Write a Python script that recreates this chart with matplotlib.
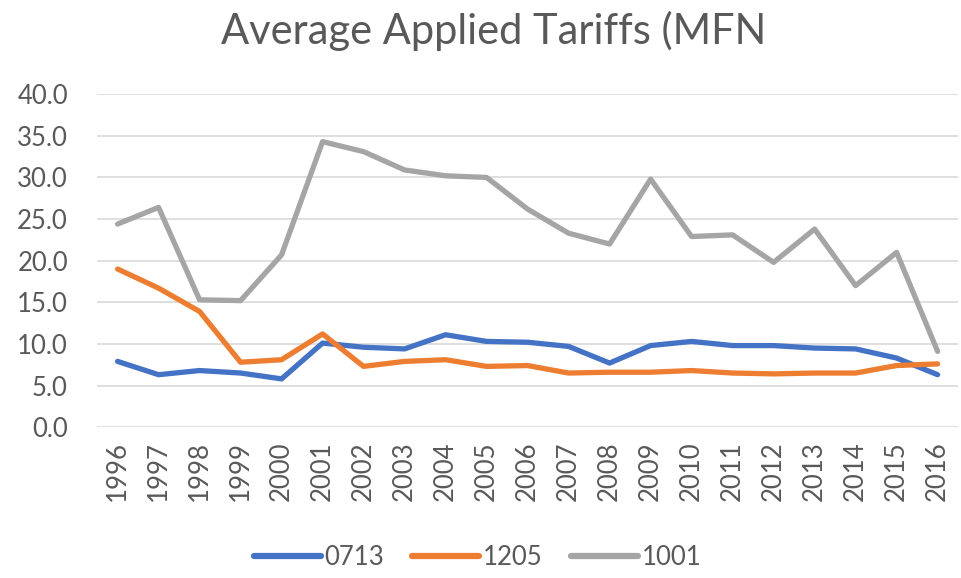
import matplotlib
matplotlib.use("Agg")
import matplotlib.pyplot as plt

plt.rcParams['font.family'] = ['Lato', 'DejaVu Sans']

years = [str(y) for y in range(1996, 2017)]
s0713 = [7.9, 6.3, 6.8, 6.5, 5.8, 10.1, 9.6, 9.4, 11.1, 10.3, 10.2, 9.7, 7.7, 9.8, 10.3, 9.8, 9.8, 9.5, 9.4, 8.3, 6.3]
s1205 = [19.0, 16.7, 13.9, 7.8, 8.1, 11.2, 7.3, 7.9, 8.1, 7.3, 7.4, 6.5, 6.6, 6.6, 6.8, 6.5, 6.4, 6.5, 6.5, 7.4, 7.6]
s1001 = [24.4, 26.4, 15.3, 15.2, 20.7, 34.3, 33.1, 30.9, 30.2, 30.0, 26.2, 23.3, 22.0, 29.8, 22.9, 23.1, 19.8, 23.8, 17.0, 21.0, 9.1]
series_names = ['0713', '1205', '1001']
colors = ['#4472C4', '#ED7D31', '#A5A5A5']
yticks = [0, 5, 10, 15, 20, 25, 30, 35, 40]

fig = plt.figure(figsize=(9.61, 5.78), dpi=100)
ax = fig.add_axes([0.101, 0.261, 0.896, 0.576])
x = list(range(len(years)))
for vals, name, c in zip([s0713, s1205, s1001], series_names, colors):
    ax.plot(x, vals, color=c, lw=3.8, label=name, solid_capstyle='round', solid_joinstyle='round')

ax.set_xlim(-0.5, len(years) - 0.5)
ax.set_ylim(0, 40)
ax.set_yticks(yticks)
ax.set_yticklabels([f"{v:.1f}" for v in yticks])
ax.set_xticks(x)
ax.set_xticklabels(years, rotation=90)
ax.tick_params(axis='both', length=0, labelsize=18.5, colors='#595959')
ax.tick_params(axis='y', pad=21)
ax.tick_params(axis='x', pad=10)
ax.grid(axis='y', color='#D9D9D9', lw=1.2)
ax.set_axisbelow(True)
for s in ax.spines.values():
    s.set_visible(False)

fig.text(0.514, 0.946, 'Average Applied Tariffs (MFN', ha='center', va='center', fontsize=30, color='#595959')
leg = fig.legend(loc='center', bbox_to_anchor=(0.497, 0.036), ncol=3, frameon=False, fontsize=18.5,
                 handlelength=2.6, columnspacing=1.1, handletextpad=0.15)
for t in leg.get_texts():
    t.set_color('#595959')
for h in leg.get_lines():
    h.set_linewidth(4.5)

fig.savefig('out.png', dpi=100)
